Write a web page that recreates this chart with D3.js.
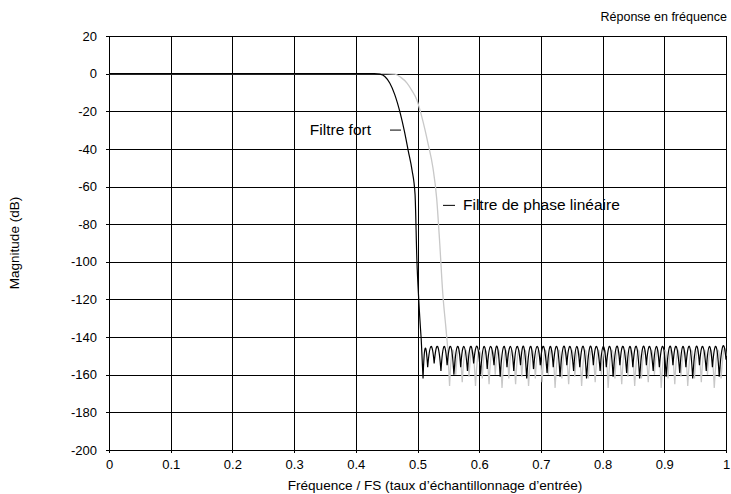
<!DOCTYPE html>
<html>
<head>
<meta charset="utf-8">
<script src="https://cdn.jsdelivr.net/npm/d3@7"></script>
<style>
  body { margin: 0; background: #fff; }
  svg { font-family: "Liberation Sans", Arial, sans-serif; }
</style>
</head>
<body>
<script>
// ticks
const xTicks = [0, 0.1, 0.2, 0.3, 0.4, 0.5, 0.6, 0.7, 0.8, 0.9, 1];
const yTicks = [20, 0, -20, -40, -60, -80, -100, -120, -140, -160, -180, -200];

// "Filtre fort" (black)
const strongFreq = [0, 0.2, 0.43, 0.439, 0.447, 0.455, 0.463, 0.472, 0.479, 0.485, 0.491, 0.496, 0.499, 0.502, 0.506,
  0.509, 0.512, 0.5165, 0.522, 0.527, 0.5325, 0.538, 0.543, 0.548, 0.554, 0.559, 0.565, 0.570, 0.575, 0.581, 0.586,
  0.591, 0.597, 0.602, 0.608, 0.613, 0.618, 0.624, 0.629, 0.634, 0.640, 0.645, 0.651, 0.656, 0.661, 0.667, 0.672,
  0.677, 0.683, 0.688, 0.694, 0.699, 0.704, 0.710, 0.715, 0.720, 0.726, 0.731, 0.737, 0.742, 0.747, 0.753, 0.758,
  0.763, 0.769, 0.774, 0.780, 0.785, 0.790, 0.796, 0.801, 0.806, 0.812, 0.817, 0.823, 0.828, 0.833, 0.839, 0.844,
  0.849, 0.855, 0.860, 0.866, 0.871, 0.876, 0.882, 0.887, 0.892, 0.898, 0.903, 0.909, 0.914, 0.919, 0.925, 0.930,
  0.935, 0.941, 0.946, 0.952, 0.957, 0.962, 0.968, 0.973, 0.978, 0.984, 0.989, 0.995, 1.0];
const strongDb = [0, 0, 0, -0.3, -1.5, -5, -11, -21, -31, -41, -51, -64, -99, -120, -141,
  -162, -146, -156, -145, -154, -145, -158, -145, -155, -145, -160, -145, -156, -145, -158, -145,
  -154, -145, -160, -145, -157, -145, -155, -145, -161, -145, -156, -145, -158, -145, -155, -145,
  -162, -145, -157, -145, -155, -145, -159, -145, -156, -145, -161, -145, -155, -145, -158, -145,
  -156, -145, -162, -145, -155, -145, -158, -145, -156, -145, -161, -145, -155, -145, -159, -145,
  -156, -145, -162, -145, -155, -145, -158, -145, -156, -145, -161, -145, -155, -145, -159, -145,
  -156, -145, -162, -145, -155, -145, -158, -145, -156, -145, -161, -145, -152];

// "Filtre de phase linéaire" (grey)
const linearFreq = [0, 0.2, 0.45, 0.4635, 0.473, 0.483, 0.491, 0.499, 0.507, 0.517, 0.525, 0.531, 0.536, 0.541, 0.546, 0.549,
  0.552, 0.5565, 0.562, 0.567, 0.5725, 0.578, 0.5835, 0.589, 0.594, 0.600, 0.605, 0.610, 0.616, 0.621, 0.626, 0.632,
  0.637, 0.643, 0.648, 0.653, 0.659, 0.664, 0.669, 0.675, 0.680, 0.686, 0.691, 0.696, 0.702, 0.707, 0.712, 0.718,
  0.723, 0.729, 0.734, 0.739, 0.745, 0.750, 0.755, 0.761, 0.766, 0.772, 0.777, 0.782, 0.788, 0.793, 0.798, 0.804,
  0.809, 0.815, 0.820, 0.825, 0.831, 0.836, 0.841, 0.847, 0.852, 0.858, 0.863, 0.868, 0.874, 0.879, 0.884, 0.890,
  0.895, 0.901, 0.906, 0.911, 0.917, 0.922, 0.927, 0.933, 0.938, 0.944, 0.949, 0.954, 0.960, 0.965, 0.970, 0.976,
  0.981, 0.987, 0.992, 0.997, 1.0];
const linearDb = [0, 0, 0, -0.3, -2, -5, -9, -14, -23, -37, -50, -66, -90, -117, -135, -146,
  -166, -147, -160, -147, -164, -147, -161, -147, -166, -147, -162, -147, -165, -147, -160, -147,
  -167, -147, -162, -147, -165, -147, -161, -147, -166, -147, -162, -147, -164, -147, -160, -147,
  -167, -147, -162, -147, -165, -147, -161, -147, -166, -147, -162, -147, -164, -147, -160, -147,
  -167, -147, -162, -147, -165, -147, -161, -147, -166, -147, -162, -147, -164, -147, -160, -147,
  -167, -147, -162, -147, -165, -147, -161, -147, -166, -147, -162, -147, -164, -147, -160, -147,
  -167, -147, -162, -147, -150];

const width = 731, height = 494;
const margin = {top: 36, right: 5, bottom: 44, left: 109};

const svg = d3.select("body").append("svg")
  .attr("width", width)
  .attr("height", height);

const x = d3.scaleLinear().domain([0, 1]).range([margin.left, width - margin.right]);
const y = d3.scaleLinear().domain([-200, 20]).range([height - margin.bottom, margin.top]);

// grid
svg.append("g").selectAll("line").data(xTicks).join("line")
  .attr("x1", d => Math.round(x(d)) + 0.5).attr("x2", d => Math.round(x(d)) + 0.5)
  .attr("y1", y(20)).attr("y2", y(-200) + 3)
  .attr("stroke", "#000").attr("stroke-width", 1);
svg.append("g").selectAll("line").data(yTicks).join("line")
  .attr("y1", d => Math.round(y(d)) + 0.5).attr("y2", d => Math.round(y(d)) + 0.5)
  .attr("x1", x(0) - 3).attr("x2", x(1))
  .attr("stroke", "#000").attr("stroke-width", 1);

// tick labels via d3 axes (no domain / tick lines)
const xAxis = svg.append("g")
  .attr("transform", `translate(0,${y(-200)})`)
  .call(d3.axisBottom(x).tickValues(xTicks).tickSize(0).tickPadding(10).tickFormat(d => String(d)));
const yAxis = svg.append("g")
  .attr("transform", `translate(${x(0)},0)`)
  .call(d3.axisLeft(y).tickValues(yTicks).tickSize(0).tickPadding(12).tickFormat(d => String(d)));
[xAxis, yAxis].forEach(a => {
  a.select(".domain").remove();
  a.selectAll("text").attr("font-size", 13).attr("fill", "#000")
    .style("font-family", "'Liberation Sans', Arial, sans-serif");
});

// sidelobes: rounded tops, sharp nulls
function archCurve(context) {
  let pts;
  return {
    areaStart() {}, areaEnd() {},
    lineStart() { pts = []; },
    point(px, py) { pts.push([px, py]); },
    lineEnd() {
      context.moveTo(pts[0][0], pts[0][1]);
      let i = 1;
      while (i < pts.length) {
        const p = pts[i], a = pts[i - 1], b = pts[i + 1];
        if (b && p[1] < a[1] && p[1] < b[1]) {
          context.quadraticCurveTo(p[0], 2 * p[1] - (a[1] + b[1]) / 2, b[0], b[1]);
          i += 2;
        } else {
          context.lineTo(p[0], p[1]);
          i += 1;
        }
      }
    }
  };
}

function drawSeries(freq, db, color, sw) {
  const pts = d3.zip(freq, db);
  const cut = db.findIndex(v => v < -150);
  const smooth = d3.line().curve(d3.curveMonotoneX).x(d => x(d[0])).y(d => y(d[1]));
  const arches = d3.line().curve(archCurve).x(d => x(d[0])).y(d => y(d[1]));
  svg.append("path").datum(pts.slice(0, cut))
    .attr("fill", "none").attr("stroke", color).attr("stroke-width", sw).attr("d", smooth);
  svg.append("path").datum(pts.slice(cut - 1))
    .attr("fill", "none").attr("stroke", color).attr("stroke-width", sw).attr("d", arches);
}
drawSeries(linearFreq, linearDb, "#c8c8c8", 1.3);
drawSeries(strongFreq, strongDb, "#000", 1.2);

// annotations
svg.append("text").attr("x", 371).attr("y", y(-30) + 5)
  .attr("text-anchor", "end").attr("font-size", 15.5).text("Filtre fort");
svg.append("line").attr("x1", 390).attr("x2", 401)
  .attr("y1", y(-30)).attr("y2", y(-30)).attr("stroke", "#000");
svg.append("line").attr("x1", 443).attr("x2", 455)
  .attr("y1", y(-70)).attr("y2", y(-70)).attr("stroke", "#000");
svg.append("text").attr("x", 463).attr("y", y(-70) + 5)
  .attr("font-size", 15.5).text("Filtre de phase linéaire");

// titles
svg.append("text").attr("x", width - 4).attr("y", 21)
  .attr("text-anchor", "end").attr("font-size", 12.5).text("Réponse en fréquence");
svg.append("text").attr("x", 435).attr("y", 490)
  .attr("text-anchor", "middle").attr("font-size", 13.6)
  .text("Fréquence / FS (taux d’échantillonnage d’entrée)");
svg.append("text")
  .attr("transform", `translate(19,${y(-90)}) rotate(-90)`)
  .attr("text-anchor", "middle").attr("font-size", 13.5).text("Magnitude (dB)");
</script>
</body>
</html>
